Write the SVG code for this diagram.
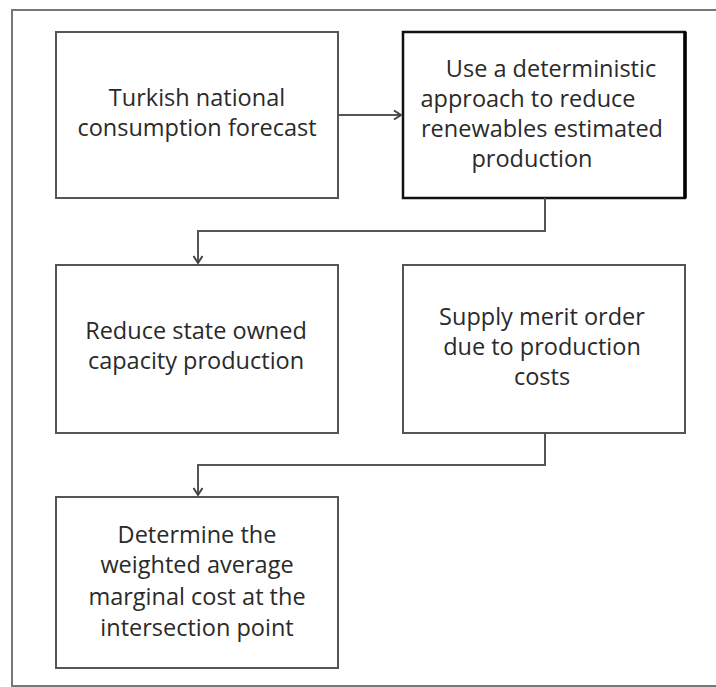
<svg xmlns="http://www.w3.org/2000/svg" width="716" height="687" viewBox="0 0 716 687">
<style>
.box{fill:#fff;stroke:#555;stroke-width:2}
.boxb{fill:#fff;stroke:#111;stroke-width:2.5}
.t{font-family:"Open Sans","Liberation Sans",sans-serif;font-size:23.5px;fill:#2a2a2a;text-anchor:middle}
.c{fill:none;stroke:#555;stroke-width:2}
</style>
<defs>
<marker id="ah" markerWidth="12" markerHeight="12" refX="9" refY="6" orient="auto" markerUnits="userSpaceOnUse">
<path d="M2,1.5 L9,6 L2,10.5" fill="none" stroke="#444" stroke-width="2"/>
</marker>
</defs>
<rect x="0" y="0" width="716" height="687" fill="#fff"/>
<rect id="frame" x="12" y="10" width="720" height="676" fill="none" stroke="#777" stroke-width="2"/>
<g id="n1">
<rect class="box" x="56" y="32" width="282" height="166"/>
<text class="t" x="197" y="106">Turkish national</text>
<text class="t" x="197" y="136">consumption forecast</text>
</g>
<g id="n2">
<rect class="boxb" x="403" y="32" width="282" height="166"/>
<line x1="685" y1="32" x2="685" y2="198" stroke="#000" stroke-width="3.5"/>
<text class="t" x="551" y="77">Use a deterministic</text>
<text class="t" x="528" y="107">approach to reduce</text>
<text class="t" x="542" y="137">renewables estimated</text>
<text class="t" x="532" y="167">production</text>
</g>
<g id="n3">
<rect class="box" x="56" y="265" width="282" height="168"/>
<text class="t" x="196" y="339">Reduce state owned</text>
<text class="t" x="196" y="369">capacity production</text>
</g>
<g id="n4">
<rect class="box" x="403" y="265" width="282" height="168"/>
<text class="t" x="542" y="325">Supply merit order</text>
<text class="t" x="542" y="355">due to production</text>
<text class="t" x="542" y="385">costs</text>
</g>
<g id="n5">
<rect class="box" x="56" y="497" width="282" height="171"/>
<text class="t" x="197" y="543">Determine the</text>
<text class="t" x="197" y="573">weighted average</text>
<text class="t" x="197" y="605">marginal cost at the</text>
<text class="t" x="197" y="636">intersection point</text>
</g>
<g id="connectors">
<path class="c" d="M338,115 L401,115" marker-end="url(#ah)"/>
<path class="c" d="M545,198 L545,231 L198,231 L198,263" marker-end="url(#ah)"/>
<path class="c" d="M545,433 L545,465 L198,465 L198,495" marker-end="url(#ah)"/>
</g>
</svg>
